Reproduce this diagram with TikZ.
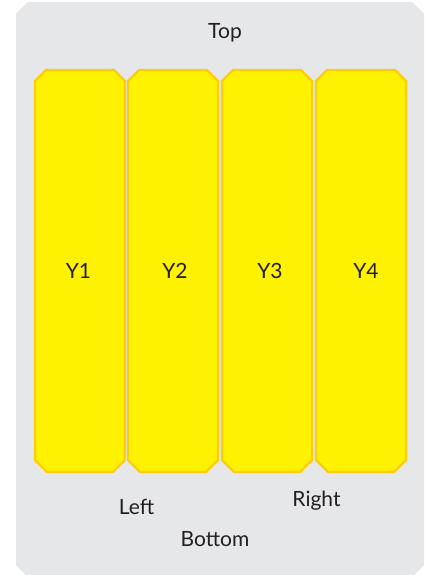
\documentclass[tikz,border=0pt]{standalone}
\usepackage{fontspec}
\setmainfont{Lato}
\definecolor{bggray}{HTML}{E6E7E8}
\definecolor{ylfill}{HTML}{FFF200}
\definecolor{ylline}{HTML}{FDCC0A}
\definecolor{txt}{HTML}{231F20}
\begin{document}
\begin{tikzpicture}[x=1pt,y=-1pt,
  lbl/.style={anchor=base,text=txt,font=\fontsize{21}{24}\selectfont,inner sep=0pt},
  colbox/.style={fill=ylfill,draw=ylline,line width=2.2pt,line join=miter}]
\useasboundingbox (0,0) rectangle (427,575);
% background panel
\fill[bggray] (28,2) -- (412,2) -- (424,14) -- (424,565) -- (413,576) -- (27,576) -- (16,565) -- (16,14) -- cycle;
% columns
\foreach \i/\x in {1/35,2/128,3/222,4/316}{
  \draw[colbox] (\x+11,70) -- (\x+79,70) -- (\x+90,81) -- (\x+90,460) -- (\x+78,472) -- (\x+12,472) -- (\x,460) -- (\x,81) -- cycle;
}
\node[lbl] (top) at (225,39) {Top};
\node[lbl] (y1) at (78.5,278) {Y1};
\node[lbl] (y2) at (175,278) {Y2};
\node[lbl] (y3) at (270,278) {Y3};
\node[lbl] (y4) at (366,278) {Y4};
\node[lbl] (left) at (136.5,514) {Left};
\node[lbl] (right) at (316.5,506) {Right};
\node[lbl] (bottom) at (215,546.5) {Bottom};
\end{tikzpicture}
\end{document}
